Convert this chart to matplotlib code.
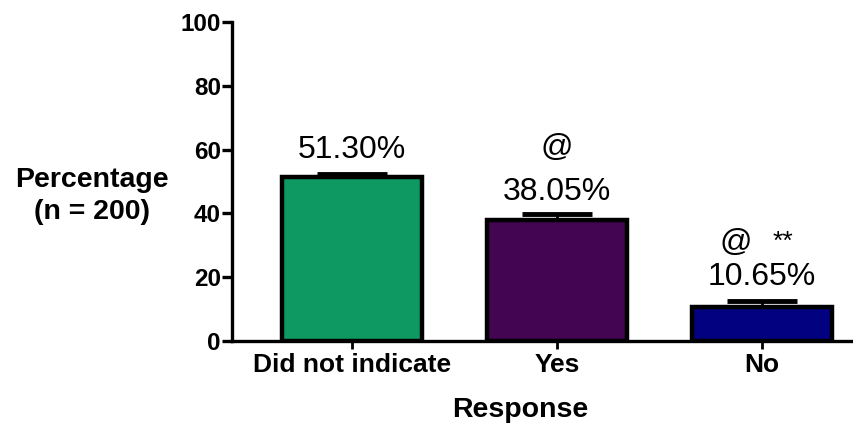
import matplotlib
matplotlib.use("Agg")
import matplotlib.pyplot as plt

plt.rcParams['font.family'] = ['Liberation Sans', 'DejaVu Sans']

categories = ["Did not indicate", "Yes", "No"]
values = [51.30, 38.05, 10.65]
errors = [1.0, 1.7, 1.8]
value_labels = ["51.30%", "38.05%", "10.65%"]
colors = ["#0E9962", "#430451", "#020280"]
y_ticks = [0, 20, 40, 60, 80, 100]

fig = plt.figure(figsize=(8.54, 4.26), dpi=100)
ax = fig.add_axes([232 / 854, 1 - 341 / 426, 650 / 854, (341 - 22) / 426])

x = list(range(len(categories)))
ax.bar(x, values, width=0.683, color=colors, edgecolor="black", linewidth=3.2, zorder=3)
ax.errorbar(x, values, yerr=[[0] * len(values), errors], fmt="none", ecolor="black",
            elinewidth=2, capsize=25, capthick=3.5, zorder=2)

ax.set_xlim(-0.585, 2.585)
ax.set_ylim(0, 100)
ax.set_yticks(y_ticks)
ax.set_xticks(x)
ax.set_xticklabels(categories)

for side in ("top", "right"):
    ax.spines[side].set_visible(False)
for side in ("left", "bottom"):
    ax.spines[side].set_linewidth(2.4)
ax.spines["left"].set_bounds(0, 100)

ax.tick_params(axis="y", direction="out", length=7, width=2.4, labelsize=17.5, pad=1)
ax.tick_params(axis="x", direction="out", length=6, width=2, labelsize=19, pad=3)
for lbl in ax.get_xticklabels() + ax.get_yticklabels():
    lbl.set_fontweight("bold")

# value labels and significance marks above each bar
vfs = 23
ax.text(0, 59.9, value_labels[0], ha="center", va="center", fontsize=vfs)
ax.text(1, 60.5, "@", ha="center", va="center", fontsize=vfs)
ax.text(1, 46.7, value_labels[1], ha="center", va="center", fontsize=vfs)
ax.text(1.87, 30.7, "@", ha="center", va="center", fontsize=vfs)
ax.text(2.10, 31.0, "**", ha="center", va="center", fontsize=19)
ax.text(2, 20.0, value_labels[2], ha="center", va="center", fontsize=vfs)

fig.text(92 / 854, 1 - 180 / 426, "Percentage", ha="center", va="center",
         fontsize=20.5, fontweight="bold")
fig.text(92 / 854, 1 - 212 / 426, "(n = 200)", ha="center", va="center",
         fontsize=20.5, fontweight="bold")
fig.text(520 / 854, 1 - 410 / 426, "Response", ha="center", va="center",
         fontsize=20.5, fontweight="bold")

fig.savefig("out.png", dpi=100)
